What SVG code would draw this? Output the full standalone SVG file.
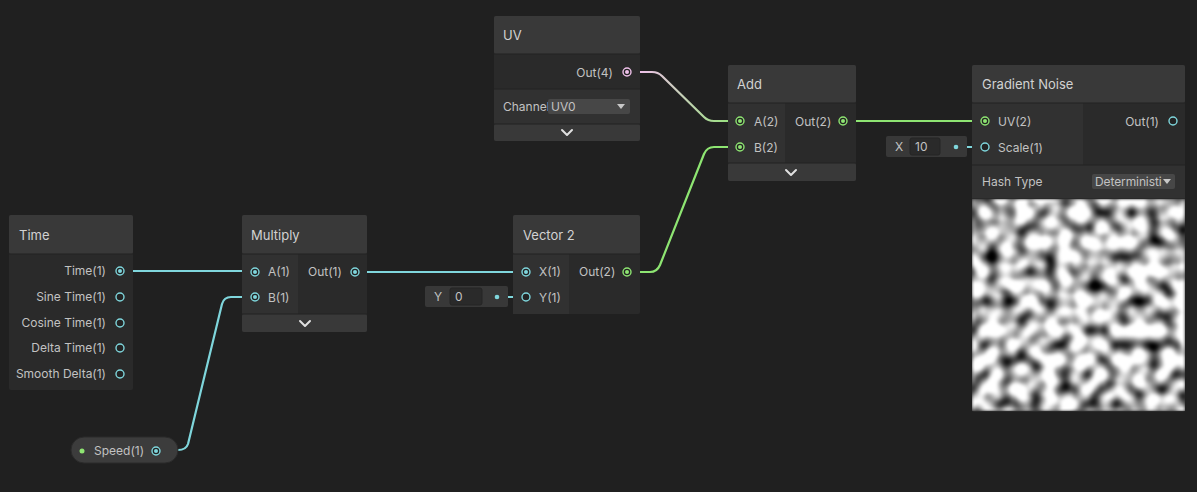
<svg xmlns="http://www.w3.org/2000/svg" width="1197" height="492" viewBox="0 0 1197 492">
<defs>
<style>
text{font-family:Inter,"Noto Sans","Liberation Sans",sans-serif;}
.hd{fill:#393939;}
.bo{fill:#2a2a2a;}
.bi{fill:#313131;}
.sep{stroke:#232323;stroke-width:1;}
.t{font-size:13px;fill:#d2d2d2;}
.p{font-size:12px;fill:#c2c2c2;}
.pe{font-size:12px;fill:#c2c2c2;text-anchor:end;}
.pc{fill:#232323;stroke-width:1.4;}
.cy{stroke:#7fd6dc;}
.gr{stroke:#8ee572;}
.pk{stroke:#efc1ea;}
.dc{fill:#7fd6dc;}
.dg{fill:#8ee572;}
.dp{fill:#efc1ea;}
.chev{fill:none;stroke:#e0e0e0;stroke-width:2;stroke-linecap:round;stroke-linejoin:round;}
.e{fill:none;stroke-width:2.2;stroke-linecap:round;stroke-linejoin:round;}
.dim{opacity:0.45;}
.fld{fill:#383838;}
.fin{fill:#2a2a2a;stroke:#252525;stroke-width:1;}
.dd{fill:#474747;}
</style>
<linearGradient id="uvg" gradientUnits="userSpaceOnUse" x1="640" y1="0" x2="740" y2="0">
<stop offset="0" stop-color="#efc1ea"/>
<stop offset="1" stop-color="#8ee572"/>
</linearGradient>
<filter id="noise" x="0" y="0" width="1" height="1" filterUnits="objectBoundingBox" color-interpolation-filters="sRGB">
<feTurbulence type="fractalNoise" baseFrequency="0.068" numOctaves="1" seed="11" result="n"/>
<feColorMatrix type="matrix" values="2.7 0 0 0 -0.6  2.7 0 0 0 -0.6  2.7 0 0 0 -0.6  0 0 0 0 1"/>
<feGaussianBlur stdDeviation="1.6"/>
</filter>
</defs>
<rect width="1197" height="492" fill="#202020"/>

<g id="connectors">
<line x1="133" y1="271" x2="255" y2="271" class="e cy"/>
<line x1="120" y1="271" x2="133" y2="271" class="e cy dim"/>
<path d="M178,450 Q186,450 188,444 L222,304 Q224,297 231,297 L255,297" class="e cy"/>
<line x1="156" y1="451" x2="178" y2="450" class="e cy dim"/>
<line x1="367" y1="272" x2="526" y2="272" class="e cy"/>
<line x1="355" y1="272" x2="367" y2="272" class="e cy dim"/>
<line x1="497" y1="297" x2="526" y2="297" class="e cy"/>
<path d="M640,272 L650,272 Q657,272 660,265 L704,154 Q707,147 714,147 L740,147" class="e gr"/>
<line x1="627" y1="272" x2="640" y2="272" class="e gr dim"/>
<path d="M640,72 L652,72 Q658,72 662,76 L704,117 Q708,121 714,121 L740,121" class="e" stroke="url(#uvg)"/>
<line x1="627" y1="72" x2="640" y2="72" class="e pk dim"/>
<line x1="856" y1="121" x2="985" y2="121" class="e gr"/>
<line x1="843" y1="121" x2="856" y2="121" class="e gr dim"/>
<line x1="956" y1="147" x2="985" y2="147" class="e cy"/>
</g>

<g id="node-time">
<rect x="9" y="215" width="124" height="175" rx="2" class="bo"/>
<rect x="9" y="215" width="124" height="39" rx="2" class="hd"/>
<line x1="9" y1="254" x2="133" y2="254" class="sep"/>
<text x="19" y="240" class="t">Time</text>
<text x="106" y="275" class="pe">Time(1)</text>
<text x="106" y="301" class="pe">Sine Time(1)</text>
<text x="106" y="327" class="pe">Cosine Time(1)</text>
<text x="106" y="352" class="pe">Delta Time(1)</text>
<text x="106" y="378" class="pe">Smooth Delta(1)</text>
<circle cx="120" cy="271" r="4" class="pc cy"/><circle cx="120" cy="271" r="2" class="dc"/>
<circle cx="120" cy="297" r="4" class="pc cy"/>
<circle cx="120" cy="323" r="4" class="pc cy"/>
<circle cx="120" cy="348" r="4" class="pc cy"/>
<circle cx="120" cy="374" r="4" class="pc cy"/>
</g>

<g id="node-multiply">
<rect x="242" y="215" width="125" height="117" rx="2" class="bo"/>
<rect x="242" y="254" width="56" height="60" class="bi"/>
<rect x="242" y="215" width="125" height="39" rx="2" class="hd"/>
<line x1="242" y1="254" x2="367" y2="254" class="sep"/>
<rect x="242" y="314" width="125" height="18" rx="2" class="hd"/>
<line x1="242" y1="314" x2="367" y2="314" class="sep"/>
<text x="251" y="240" class="t">Multiply</text>
<text x="268" y="276" class="p">A(1)</text>
<text x="268" y="302" class="p">B(1)</text>
<text x="308" y="276" class="p">Out(1)</text>
<circle cx="255" cy="272" r="4" class="pc cy"/><circle cx="255" cy="272" r="2" class="dc"/>
<circle cx="255" cy="297" r="4" class="pc cy"/><circle cx="255" cy="297" r="2" class="dc"/>
<circle cx="355" cy="272" r="4" class="pc cy"/><circle cx="355" cy="272" r="2" class="dc"/>
<polyline points="300,321 305,326 310,321" class="chev"/>
</g>

<g id="node-vector2">
<rect x="513" y="215" width="127" height="99" rx="2" class="bo"/>
<rect x="513" y="254" width="56" height="60" class="bi"/>
<rect x="513" y="215" width="127" height="39" rx="2" class="hd"/>
<line x1="513" y1="254" x2="640" y2="254" class="sep"/>
<text x="523" y="240" class="t">Vector 2</text>
<text x="539" y="276" class="p">X(1)</text>
<text x="539" y="302" class="p">Y(1)</text>
<text x="579" y="276" class="p">Out(2)</text>
<circle cx="526" cy="272" r="4" class="pc cy"/><circle cx="526" cy="272" r="2" class="dc"/>
<circle cx="526" cy="297" r="4" class="pc cy"/>
<circle cx="627" cy="272" r="4" class="pc gr"/><circle cx="627" cy="272" r="2" class="dg"/>
</g>

<g id="field-y">
<rect x="425" y="286" width="83" height="21" rx="2" class="fld"/>
<rect x="450" y="288" width="32" height="17" rx="2" class="fin"/>
<text x="434" y="301" class="p">Y</text>
<text x="455" y="301" class="p">0</text>
<circle cx="497" cy="297" r="2.3" class="dc"/>
</g>

<g id="node-uv">
<rect x="494" y="16" width="146" height="125" rx="2" class="bo"/>
<rect x="494" y="16" width="146" height="38" rx="2" class="hd"/>
<line x1="494" y1="54" x2="640" y2="54" class="sep"/>
<rect x="494" y="89" width="146" height="35" class="bi"/>
<line x1="494" y1="89" x2="640" y2="89" class="sep"/>
<rect x="494" y="124" width="146" height="17" rx="2" class="hd"/>
<line x1="494" y1="124" x2="640" y2="124" class="sep"/>
<text x="503" y="40" class="t">UV</text>
<text x="613" y="77" class="pe">Out(4)</text>
<circle cx="627" cy="72" r="4" class="pc pk"/><circle cx="627" cy="72" r="2" class="dp"/>
<text x="503" y="111" class="p">Channel</text>
<rect x="548" y="99" width="82" height="15" rx="2" class="dd"/>
<text x="551" y="111" class="p">UV0</text>
<polygon points="617,104 625,104 621,109" fill="#c8c8c8"/>
<polyline points="562,130 567,135 572,130" class="chev"/>
</g>

<g id="node-add">
<rect x="728" y="65" width="128" height="116" rx="2" class="bo"/>
<rect x="728" y="103" width="57" height="60" class="bi"/>
<rect x="728" y="65" width="128" height="38" rx="2" class="hd"/>
<line x1="728" y1="103" x2="856" y2="103" class="sep"/>
<rect x="728" y="163" width="128" height="18" rx="2" class="hd"/>
<line x1="728" y1="163" x2="856" y2="163" class="sep"/>
<text x="737" y="89" class="t">Add</text>
<text x="754" y="126" class="p">A(2)</text>
<text x="754" y="152" class="p">B(2)</text>
<text x="795" y="126" class="p">Out(2)</text>
<circle cx="740" cy="121" r="4" class="pc gr"/><circle cx="740" cy="121" r="2" class="dg"/>
<circle cx="740" cy="147" r="4" class="pc gr"/><circle cx="740" cy="147" r="2" class="dg"/>
<circle cx="843" cy="121" r="4" class="pc gr"/><circle cx="843" cy="121" r="2" class="dg"/>
<polyline points="786,170 791,175 796,170" class="chev"/>
</g>

<g id="field-x">
<rect x="886" y="136" width="81" height="21" rx="2" class="fld"/>
<rect x="910" y="138" width="30" height="17" rx="2" class="fin"/>
<text x="895" y="151" class="p">X</text>
<text x="915" y="151" class="p">10</text>
<circle cx="956" cy="147" r="2.3" class="dc"/>
</g>

<g id="node-gradient-noise">
<rect x="972" y="65" width="213" height="347" rx="2" class="bo"/>
<rect x="972" y="103" width="111" height="62" class="bi"/>
<rect x="972" y="65" width="213" height="38" rx="2" class="hd"/>
<line x1="972" y1="103" x2="1185" y2="103" class="sep"/>
<rect x="972" y="165" width="213" height="33" class="bi"/>
<line x1="972" y1="165" x2="1185" y2="165" class="sep"/>
<text x="982" y="89" class="t">Gradient Noise</text>
<text x="998" y="126" class="p">UV(2)</text>
<text x="998" y="152" class="p">Scale(1)</text>
<text x="1159" y="126" class="pe">Out(1)</text>
<circle cx="985" cy="121" r="4" class="pc gr"/><circle cx="985" cy="121" r="2" class="dg"/>
<circle cx="985" cy="147" r="4" class="pc cy"/>
<circle cx="1173" cy="121" r="4" class="pc cy"/>
<text x="982" y="186" class="p">Hash Type</text>
<rect x="1092" y="174" width="83" height="15" rx="2" class="dd"/>
<text x="1095" y="186" class="p" font-size="11.5" letter-spacing="-0.1">Deterministi</text>
<polygon points="1163,179 1171,179 1167,184" fill="#c8c8c8"/>
<rect x="972" y="199" width="213" height="212" filter="url(#noise)"/>
</g>

<g id="node-speed">
<rect x="71" y="437" width="107" height="26" rx="13" fill="#3c3c3c" stroke="#2a2a2a" stroke-width="1"/>
<circle cx="82" cy="451" r="2.5" class="dg"/>
<text x="94" y="455" class="p">Speed(1)</text>
<circle cx="156" cy="451" r="4" class="pc cy"/><circle cx="156" cy="451" r="2" class="dc"/>
</g>
</svg>
